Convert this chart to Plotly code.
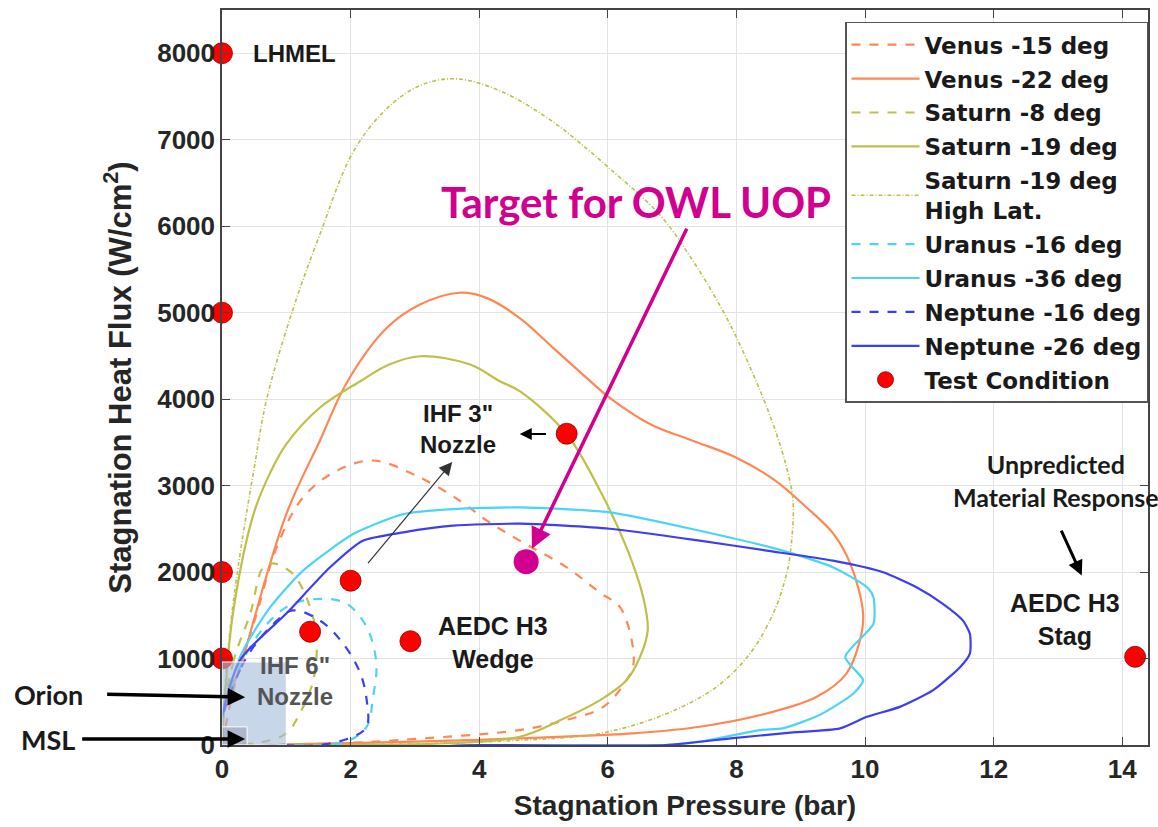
import plotly.graph_objects as go

# ---------------- data ----------------
venus15_p = [0, 0.2, 0.54, 0.85, 1.26, 1.78, 2.35, 3.08, 3.7, 4.12, 4.63, 5.36, 5.88, 6.19, 6.39, 6.39, 6.29, 5.93, 5.3, 4.6, 3.0, 2.0, 1.0, 0.3]
venus15_q = [0, 700, 1520, 2286, 2862, 3170, 3290, 3093, 2824, 2594, 2363, 2055, 1760, 1594, 1133, 902, 749, 441, 280, 170, 70, 25, 5, 0]

venus22_p = [0, 0.38, 1.0, 1.52, 1.94, 2.56, 3.08, 3.7, 4.12, 4.63, 5.15, 5.67, 6.03, 6.66, 7.33, 8.0, 8.6, 9.09, 9.5, 9.77, 9.97, 9.92, 9.71, 9.25, 8.47, 7.43, 6.39, 5.88, 4.0, 2.5, 1.0, 0]
venus22_q = [0, 1133, 2670, 3516, 4190, 4822, 5094, 5230, 5168, 4937, 4592, 4246, 4015, 3710, 3516, 3323, 3060, 2747, 2450, 2098, 1518, 1210, 826, 557, 365, 211, 134, 115, 60, 30, 8, 0]

saturn8_p = [0, 0.17, 0.44, 0.64, 0.79, 1.1, 1.37, 1.47, 1.42, 1.21, 1.0, 0.6, 0.2, 0]
saturn8_q = [0, 945, 1520, 2055, 2100, 1980, 1594, 1210, 749, 365, 134, 30, 5, 0]

saturn19_p = [0, 0.05, 0.17, 0.49, 0.75, 1.0, 1.52, 2.15, 2.6, 3.08, 3.86, 4.32, 4.63, 5.36, 5.88, 6.29, 6.55, 6.62, 6.5, 6.29, 5.88, 5.3, 4.63, 3.5, 2.0, 0.8]
saturn19_q = [0, 600, 1520, 2670, 3150, 3480, 3900, 4207, 4400, 4496, 4400, 4207, 4092, 3594, 2939, 2286, 1710, 1326, 1018, 749, 519, 300, 96, 20, 3, 0]

saturnHL_p = [0, 0.05, 0.15, 0.3, 0.5, 0.7, 1.11, 1.52, 2.04, 2.56, 3.08, 3.65, 4.37, 5.15, 5.67, 6.03, 6.81, 7.33, 7.85, 8.26, 8.57, 8.78, 8.88, 8.85, 8.78, 8.57, 8.21, 7.69, 6.92, 5.88, 4.5, 3.0, 1.5]
saturnHL_q = [0, 700, 1500, 2300, 3200, 4015, 5053, 5900, 6859, 7358, 7627, 7704, 7550, 7205, 6897, 6666, 6130, 5591, 4937, 4288, 3710, 3208, 2824, 2300, 1980, 1518, 1057, 672, 365, 134, 50, 15, 0]

uranus16_p = [0, 0.38, 1.0, 1.52, 1.94, 2.25, 2.40, 2.35, 2.25, 1.99, 1.52, 0.8, 0]
uranus16_q = [0, 1057, 1594, 1690, 1633, 1364, 945, 557, 211, 58, 0, 0, 0]

uranus36_p = [0, 0.28, 0.75, 1.26, 2.04, 2.82, 3.59, 4.63, 6.03, 7.43, 8.72, 9.5, 10.03, 10.13, 10.13, 9.69, 9.97, 9.82, 9.3, 8.72, 8.37, 7.43, 6.9, 4.0, 0]
uranus36_q = [0, 1018, 1594, 2017, 2440, 2670, 2728, 2747, 2690, 2478, 2248, 2055, 1825, 1710, 1402, 1018, 749, 595, 350, 192, 173, 38, 0, 0, 0]

neptune16_p = [0, 0.3, 0.8, 1.1, 1.52, 1.88, 2.15, 2.25, 2.25, 2.04, 1.52, 0.8, 0]
neptune16_q = [0, 900, 1400, 1556, 1441, 1176, 830, 519, 211, 96, 0, 0, 0]

neptune26_p = [0, 0.28, 1.0, 1.68, 2.19, 2.82, 3.59, 4.63, 6.03, 7.43, 8.47, 9.5, 10.28, 10.8, 11.21, 11.52, 11.63, 11.63, 11.48, 11.06, 10.54, 10.03, 9.61, 8.8, 7.95, 6.9, 4.0, 0]
neptune26_q = [0, 980, 1520, 2055, 2363, 2459, 2536, 2559, 2501, 2363, 2248, 2132, 1998, 1825, 1633, 1441, 1287, 1057, 902, 634, 441, 326, 192, 140, 80, 0, 0, 0]

test_p = [0, 0, 0, 0, 1.37, 2.0, 2.93, 5.36, 14.2]
test_q = [8000, 5000, 2000, 1000, 1310, 1900, 1200, 3600, 1020]

target_p = [4.73]
target_q = [2120]

ihf6_box = [0, 1.0, 0, 960]     # x0, x1, y0, y1
msl_box = [0, 0.39, 0, 210]

x_ticks = [0, 2, 4, 6, 8, 10, 12, 14]
y_ticks = [0, 1000, 2000, 3000, 4000, 5000, 6000, 7000, 8000]

# ---------------- styles ----------------
ORANGE = "#FF8756"
OLIVE = "#BFBF4C"
CYAN = "#4AD4F7"
BLUE = "#3D3DF2"
MAGENTA = "#D1008E"
FONT = "Liberation Sans"
LEGFONT = "DejaVu Sans"
CAL = "Lato"

fig = go.Figure()

def line(p, q, name, color, dash="solid", width=2.2, smooth=1.0):
    fig.add_trace(go.Scatter(x=p, y=q, mode="lines", name=name, legendgroup=name,
                             line=dict(color=color, dash=dash, width=width, shape="spline", smoothing=smooth)))

line(venus15_p, venus15_q, "Venus -15 deg", ORANGE, "dash")
line(venus22_p, venus22_q, "Venus -22 deg", ORANGE)
line(saturn8_p, saturn8_q, "Saturn -8 deg", OLIVE, "dash")
line(saturn19_p, saturn19_q, "Saturn -19 deg", OLIVE)
line(saturnHL_p, saturnHL_q, "Saturn -19 deg<br>High Lat.", OLIVE, "4px,2px,1px,2px", 1.6)
line(uranus16_p, uranus16_q, "Uranus -16 deg", CYAN, "dash")
line(uranus36_p, uranus36_q, "Uranus -36 deg", CYAN, smooth=0.6)
line(neptune16_p, neptune16_q, "Neptune -16 deg", BLUE, "dash")
line(neptune26_p, neptune26_q, "Neptune -26 deg", BLUE, smooth=0.6)

fig.add_trace(go.Scatter(x=test_p, y=test_q, mode="markers", name="Test Condition", legendgroup="test",
                         marker=dict(color="#FF0000", size=21, line=dict(color="#8B0000", width=0.8)),
                         cliponaxis=False))
fig.add_trace(go.Scatter(x=target_p, y=target_q, mode="markers", showlegend=False,
                         marker=dict(color=MAGENTA, size=25), cliponaxis=False))

# shaded boxes
fig.add_shape(type="rect", x0=ihf6_box[0], x1=ihf6_box[1], y0=ihf6_box[2], y1=ihf6_box[3],
              xref="x", yref="y", fillcolor="rgba(163,187,220,0.6)", line=dict(color="white", width=1), layer="above")
fig.add_shape(type="rect", x0=msl_box[0], x1=msl_box[1], y0=msl_box[2], y1=msl_box[3],
              xref="x", yref="y", fillcolor="rgba(150,158,178,0.55)", line=dict(color="white", width=1), layer="above")

def text(x, y, t, size=24, color="#1a1a1a", family=FONT, xanchor="center", xref="x", yref="y"):
    fig.add_annotation(x=x, y=y, xref=xref, yref=yref, text=f"<b>{t}</b>",
                       showarrow=False, xanchor=xanchor, yanchor="middle",
                       font=dict(size=size, color=color, family=family))

def arrow(x, y, ax, ay, color="black", width=2, size=1.2, head=2):
    fig.add_annotation(x=x, y=y, ax=ax, ay=ay, xref="x", yref="y", axref="x", ayref="y",
                       text=" ", showarrow=True, arrowhead=head, arrowsize=size,
                       arrowwidth=width, arrowcolor=color, font=dict(size=2))

text(0.45, 8000, "LHMEL", 24, xanchor="left")
text(3.67, 3650, "IHF 3\"<br>Nozzle", 24)
text(4.21, 1187, "AEDC H3<br>Wedge", 25)
text(1.13, 738, "IHF 6\"<br>Nozzle", 24, color="#555555")
text(13.11, 1452, "AEDC H3<br>Stag", 25)
text(12.97, 3055, "Unpredicted<br>Material Response", 25, family=CAL)
text(6.44, 6282, "Target for OWL UOP", 42, color=MAGENTA, family=CAL)
text(-0.1875, 0.069, "Orion", 27, family=CAL, xref="paper", yref="paper")
text(-0.1875, 0.007, "MSL", 27, family=CAL, xref="paper", yref="paper")

arrow(4.82, 2271, 7.25, 6006, color=MAGENTA, width=3.5, size=1.2)
arrow(4.63, 3597, 5.07, 3597, width=2, size=1.2)
arrow(3.58, 3274, 2.24, 2075, color="#333333", width=1.2, size=2.2)
arrow(13.37, 1960, 13.03, 2513, width=3, size=1.0)

fig.add_annotation(x=0.36, y=553, xref="x", yref="y", ax=-140, ay=-3, axref="pixel", ayref="pixel",
                   text=" ", showarrow=True, arrowhead=2, arrowsize=1.0, arrowwidth=3.5, arrowcolor="black", font=dict(size=2))
fig.add_annotation(x=0.36, y=69, xref="x", yref="y", ax=-165, ay=0, axref="pixel", ayref="pixel",
                   text=" ", showarrow=True, arrowhead=2, arrowsize=1.0, arrowwidth=3.5, arrowcolor="black", font=dict(size=2))

axis_common = dict(showgrid=True, gridcolor="#e3e3e3", gridwidth=1, zeroline=False,
                   showline=True, linecolor="#444444", linewidth=1.5, mirror="ticks",
                   ticks="inside", ticklen=8, tickcolor="#444444",
                   tickfont=dict(family=FONT, size=26, color="#262626"))

fig.update_xaxes(range=[0, 14.4], tickvals=x_ticks, ticktext=[f"<b>{v}</b>" for v in x_ticks],
                 title=dict(text="<b>Stagnation Pressure (bar)</b>", font=dict(family=FONT, size=28, color="#262626"), standoff=12),
                 **axis_common)
fig.update_yaxes(range=[0, 8500], tickvals=y_ticks, ticktext=[f"<b>{v}</b>" for v in y_ticks],
                 title=dict(text="<b>Stagnation Heat Flux (W/cm<sup>2</sup>)</b>", font=dict(family=FONT, size=31, color="#262626"), standoff=16),
                 **axis_common)

fig.update_layout(
    width=1158, height=827,
    margin=dict(l=222, r=8, t=8, b=82),
    paper_bgcolor="white", plot_bgcolor="white",
    legend=dict(x=1.0, y=0.984, xanchor="right", yanchor="top",
                bgcolor="white", bordercolor="#555555", borderwidth=1.5,
                font=dict(family=LEGFONT, size=23, color="#1a1a1a"), itemwidth=68,
                tracegroupgap=1),
)
for tr in fig.data:
    if tr.name:
        tr.name = f"<b>{tr.name}</b>"

fig.write_html("out.html")
